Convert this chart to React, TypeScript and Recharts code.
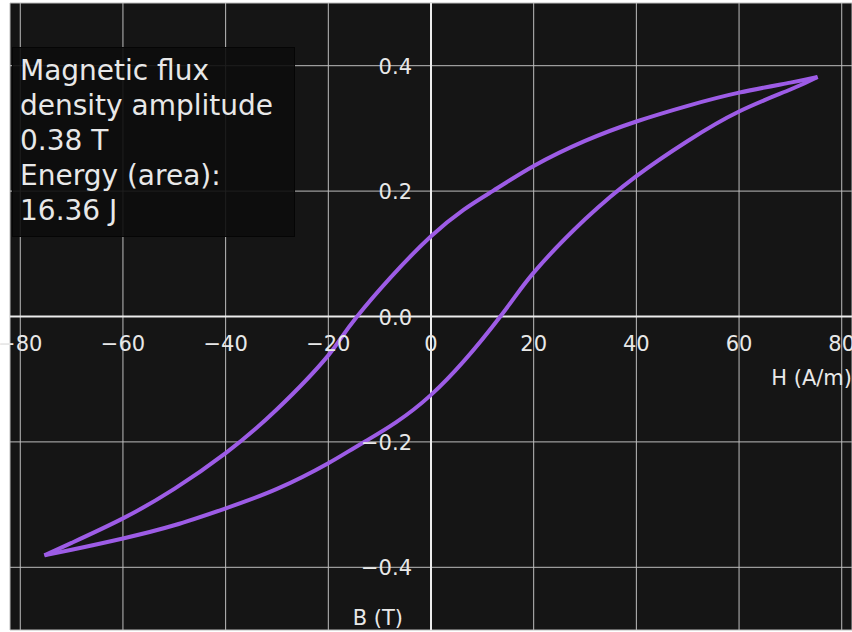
import {
  LineChart, Line, XAxis, YAxis, CartesianGrid,
  ReferenceLine, ReferenceDot,
} from 'recharts';

// ─── Data ───────────────────────────────────────────────────
const upperH = [-75.3, -70, -60, -50, -40, -30, -20, -14.4, 0, 12, 20, 30, 40, 50, 60, 70, 75.3];
const upperB = [-0.381, -0.361, -0.322, -0.275, -0.218, -0.148, -0.062, 0.0, 0.128, 0.2, 0.24, 0.28, 0.311, 0.336, 0.357, 0.373, 0.382];

const lowerH = [-75.3, -70, -60, -50, -40, -30, -20, -13, 0, 13.5, 20, 30, 40, 50, 60, 70, 75.3];
const lowerB = [-0.381, -0.372, -0.354, -0.333, -0.306, -0.275, -0.234, -0.2, -0.125, 0.0, 0.07, 0.155, 0.224, 0.28, 0.327, 0.362, 0.382];

const xTicks = [-80, -60, -40, -20, 0, 20, 40, 60, 80];
const yTicks = [-0.4, -0.2, 0.0, 0.2, 0.4];

const infoLines = ['Magnetic flux', 'density amplitude', '0.38 T', 'Energy (area):', '16.36 J'];

const upper = upperH.map((h, i) => ({ h, b: upperB[i] }));
const lower = lowerH.map((h, i) => ({ h, b: lowerB[i] }));

const FONT = '"DejaVu Sans", sans-serif';
const TEXT = '#e8e8e8';
const LOOP = '#9d5ce6';

const minus = (s: string) => s.replace('-', '\u2212');
const noTick = () => <g />;

// tick labels sit on the zero lines, like matplotlib spines at 'zero'
const xTickShape = (label: string) => (p: any) => (
  <text x={p.cx} y={p.cy + 27} textAnchor="middle" dominantBaseline="central"
    fill={TEXT} fontSize={21} fontFamily={FONT}>{label}</text>
);
const yTickShape = (label: string) => (p: any) => (
  <text x={p.cx - 19} y={p.cy + 1} textAnchor="end" dominantBaseline="central"
    fill={TEXT} fontSize={21} fontFamily={FONT}>{label}</text>
);

export default function App() {
  return (
    <div style={{ position: 'absolute', left: 0, top: 0, width: 852, height: 632, background: '#fff', overflow: 'hidden' }}>
      <LineChart width={852} height={632} data={upper} margin={{ top: 3, right: 0, bottom: 2, left: 10 }}>
        <CartesianGrid stroke="#bdbdbd" strokeWidth={1} fill="#151515" fillOpacity={1} />
        <XAxis type="number" dataKey="h" domain={[-82, 82]} ticks={xTicks} allowDataOverflow
          height={0} tick={noTick} tickLine={false} axisLine={false} />
        <YAxis type="number" dataKey="b" domain={[-0.5, 0.5]} ticks={yTicks} allowDataOverflow
          width={0} tick={noTick} tickLine={false} axisLine={false} />
        <ReferenceLine x={0} stroke="#ececec" strokeWidth={2} />
        <ReferenceLine y={0} stroke="#ececec" strokeWidth={2} />

        {xTicks.map(t => (
          <ReferenceDot key={'x' + t} x={t} y={0} r={0} shape={xTickShape(minus(String(t)))} />
        ))}
        {yTicks.map(t => (
          <ReferenceDot key={'y' + t} x={0} y={t} r={0} shape={yTickShape(minus(t.toFixed(1)))} />
        ))}
        <ReferenceDot x={82} y={0} r={0} shape={(p: any) => (
          <text x={p.cx} y={p.cy + 61} textAnchor="end" dominantBaseline="central"
            fill={TEXT} fontSize={21} fontFamily={FONT}>H (A/m)</text>
        )} />
        <ReferenceDot x={0} y={-0.5} r={0} shape={(p: any) => (
          <text x={p.cx - 28} y={p.cy - 12} textAnchor="end" dominantBaseline="central"
            fill={TEXT} fontSize={21} fontFamily={FONT}>B (T)</text>
        )} />

        <Line data={upper} dataKey="b" type="natural" stroke={LOOP} strokeWidth={4}
          dot={false} isAnimationActive={false} />
        <Line data={lower} dataKey="b" type="natural" stroke={LOOP} strokeWidth={4}
          dot={false} isAnimationActive={false} />
      </LineChart>

      <div style={{
        position: 'absolute', left: 12, top: 47, width: 283, height: 190, boxSizing: 'border-box',
        background: 'rgba(12, 12, 12, 0.9)', border: '1px solid #050505',
        padding: '5px 0 0 7px', fontFamily: FONT, fontSize: 28, lineHeight: '35px', color: TEXT,
        whiteSpace: 'nowrap',
      }}>
        {infoLines.map(l => <div key={l}>{l}</div>)}
      </div>
    </div>
  );
}
